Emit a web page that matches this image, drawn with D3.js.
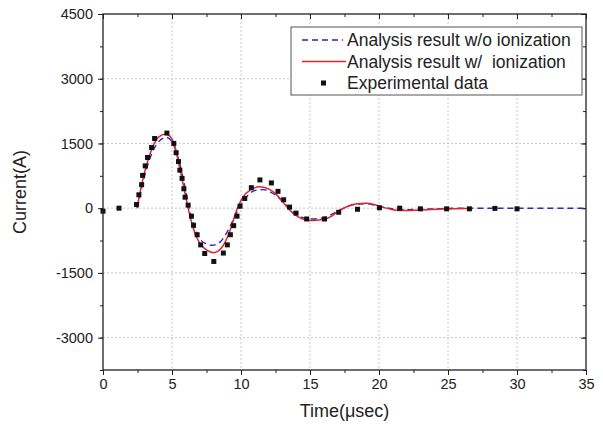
<!DOCTYPE html>
<html>

<head>
    <meta charset="utf-8">
    <title>Current vs Time</title>
    <style>
        body { margin: 0; background: #fff; }
        svg { font-family: "Liberation Sans", Arial, sans-serif; }
        .grid line { stroke: #c8c8c8; stroke-dasharray: 2,2; }
    </style>
</head>

<body>
    <svg></svg>
    <script src="https://d3js.org/d3.v7.min.js"></script>
    <script>
        // values
        const xTicks = [0, 5, 10, 15, 20, 25, 30, 35];
        const yTicks = [-3000, -1500, 0, 1500, 3000, 4500];
        const seriesNames = ["Analysis result w/o ionization", "Analysis result w/  ionization", "Experimental data"];

        const noIonT = [2.5, 2.9, 3.4, 4.0, 4.6, 5.1, 5.5, 5.9, 6.2, 6.6, 7.0, 7.5, 7.9, 8.5, 9.0, 9.5, 10.0, 10.5, 11.0, 11.6, 12.1, 12.7, 13.3, 13.9, 14.5, 15.1, 15.9, 16.6, 17.2, 17.8, 18.5, 19.1, 19.8, 20.5, 21.2, 22.0, 23.0, 24.5, 26, 30, 35];
        const noIonI = [0, 600, 1150, 1530, 1640, 1480, 1100, 550, 50, -400, -700, -830, -860, -780, -550, -230, 80, 300, 410, 430, 380, 250, 60, -120, -220, -250, -225, -140, -40, 50, 95, 100, 60, 10, -20, -35, -25, -10, 0, 0, 0];

        const ionT = [2.46, 2.92, 3.4, 4.0, 4.55, 5.08, 5.45, 5.81, 6.17, 6.53, 7.0, 7.5, 8.03, 8.58, 9.18, 9.66, 10.14, 10.75, 11.35, 12.07, 12.68, 13.28, 13.88, 14.48, 15.08, 15.92, 16.64, 17.12, 17.7, 18.4, 19.07, 19.7, 20.3, 21.0, 21.8, 22.6, 23.5, 24.5, 25.5, 26.5];
        const ionI = [0, 707, 1250, 1640, 1720, 1560, 1100, 550, 0, -460, -810, -965, -1030, -925, -540, -70, 255, 435, 497, 435, 280, 47, -147, -250, -287, -264, -170, -55, 40, 100, 115, 80, 20, -35, -55, -50, -35, -20, -12, -10];

        const expT = [0, 1.16, 2.43, 2.6, 2.8, 2.87, 3.06, 3.23, 3.52, 3.74, 4.63, 5.13, 5.3, 5.47, 5.57, 5.73, 5.86, 5.95, 6.17, 6.41, 6.56, 6.82, 7.08, 7.37, 8.03, 8.72, 9.01, 9.23, 9.47, 9.71, 9.93, 10.27, 10.75, 11.37, 12.2, 12.68, 13.09, 13.52, 13.99, 14.76, 16.05, 17.08, 18.44, 20.03, 21.5, 23.0, 24.9, 26.55, 28.4, 30.0];
        const expI = [-70, 0, 85, 310, 545, 760, 980, 1175, 1405, 1615, 1740, 1500, 1285, 1080, 880, 690, 450, 255, 70, -185, -395, -615, -850, -1050, -1235, -1040, -850, -615, -405, -185, 45, 225, 475, 655, 585, 390, 195, 25, -115, -250, -250, -95, -25, 10, 0, -15, -15, -15, -5, -15];

        const width = 603;
        const height = 427;
        const margin = { top: 14, right: 17, bottom: 57, left: 103 };
        const innerWidth = width - margin.left - margin.right;
        const innerHeight = height - margin.top - margin.bottom;

        const svg = d3.select('svg').attr('width', width).attr('height', height);
        const g = svg.append('g').attr('transform', `translate(${margin.left},${margin.top})`);

        const xScale = d3.scaleLinear().domain([0, 35]).range([0, innerWidth]);
        const yScale = d3.scaleLinear().domain([-3750, 4500]).range([innerHeight, 0]);

        const xMinor = d3.range(0, 35.01, 2.5);
        const yMinor = d3.range(-3750, 4500.1, 750);

        // grid
        g.append('g').attr('class', 'grid')
            .selectAll('line').data(xTicks.slice(1, -1)).enter().append('line')
            .attr('x1', d => xScale(d)).attr('x2', d => xScale(d))
            .attr('y1', 0).attr('y2', innerHeight);
        g.append('g').attr('class', 'grid')
            .selectAll('line').data(yTicks.slice(0, -1)).enter().append('line')
            .attr('y1', d => yScale(d)).attr('y2', d => yScale(d))
            .attr('x1', 0).attr('x2', innerWidth);

        // axes
        const fmt = d => String(d); // plain hyphen for negatives, like the original
        const styleAxis = sel => {
            sel.select('.domain').remove();
            sel.selectAll('line').attr('stroke', '#222').attr('stroke-width', 1);
            sel.selectAll('text').attr('font-size', 14.5).attr('fill', '#222')
                .attr('font-family', '"Liberation Sans", Arial, sans-serif');
        };
        g.append('g').attr('transform', `translate(0,${innerHeight})`)
            .call(d3.axisBottom(xScale).tickValues(xTicks).tickSize(5).tickPadding(4).tickFormat(fmt))
            .call(styleAxis);
        g.append('g').attr('transform', `translate(0,${innerHeight})`)
            .call(d3.axisBottom(xScale).tickValues(xMinor).tickSize(3).tickFormat(''))
            .call(styleAxis);
        g.append('g')
            .call(d3.axisLeft(yScale).tickValues(yTicks).tickSize(5).tickPadding(5).tickFormat(fmt))
            .call(styleAxis);
        g.append('g')
            .call(d3.axisLeft(yScale).tickValues(yMinor).tickSize(3).tickFormat(''))
            .call(styleAxis);
        // inward ticks top/right
        g.append('g')
            .call(d3.axisTop(xScale).tickValues(xTicks).tickSize(-5).tickFormat(''))
            .call(styleAxis);
        g.append('g')
            .call(d3.axisTop(xScale).tickValues(xMinor).tickSize(-3).tickFormat(''))
            .call(styleAxis);
        g.append('g').attr('transform', `translate(${innerWidth},0)`)
            .call(d3.axisRight(yScale).tickValues(yTicks).tickSize(-5).tickFormat(''))
            .call(styleAxis);
        g.append('g').attr('transform', `translate(${innerWidth},0)`)
            .call(d3.axisRight(yScale).tickValues(yMinor).tickSize(-3).tickFormat(''))
            .call(styleAxis);

        // curves
        const line = d3.line().x(d => xScale(d[0])).y(d => yScale(d[1])).curve(d3.curveMonotoneX);
        const noIon = noIonT.map((t, i) => [t, noIonI[i]]);
        const ion = ionT.map((t, i) => [t, ionI[i]]);
        const exp = expT.map((t, i) => [t, expI[i]]);

        g.append('path').datum(noIon).attr('d', line)
            .attr('fill', 'none').attr('stroke', '#2a2ab8').attr('stroke-width', 1.4)
            .attr('stroke-dasharray', '6,4');
        g.append('path').datum(ion).attr('d', line)
            .attr('fill', 'none').attr('stroke', '#e3232c').attr('stroke-width', 1.5);

        g.selectAll('rect.pt').data(exp).enter().append('rect').attr('class', 'pt')
            .attr('x', d => xScale(d[0]) - 2.5).attr('y', d => yScale(d[1]) - 2.5)
            .attr('width', 5).attr('height', 5).attr('fill', '#111');

        // frame
        g.append('rect').attr('width', innerWidth).attr('height', innerHeight)
            .attr('fill', 'none').attr('stroke', '#222').attr('stroke-width', 1.3);

        // legend
        const lg = svg.append('g').attr('transform', 'translate(291,27)');
        lg.append('rect').attr('width', 291).attr('height', 68)
            .attr('fill', '#fff').attr('stroke', '#555').attr('stroke-width', 1);
        const rowY = [13, 34.5, 56];
        lg.append('line').attr('x1', 11).attr('x2', 52).attr('y1', rowY[0]).attr('y2', rowY[0])
            .attr('stroke', '#2a2ab8').attr('stroke-width', 1.4).attr('stroke-dasharray', '6,4');
        lg.append('line').attr('x1', 11).attr('x2', 55).attr('y1', rowY[1]).attr('y2', rowY[1])
            .attr('stroke', '#e3232c').attr('stroke-width', 1.5);
        lg.append('rect').attr('x', 30).attr('y', rowY[2] - 2.5).attr('width', 5).attr('height', 5).attr('fill', '#111');
        lg.selectAll('text').data(seriesNames).enter().append('text')
            .attr('x', 56).attr('y', (d, i) => rowY[i]).attr('dy', '0.35em')
            .attr('font-size', 17.5).attr('fill', '#222').style('white-space', 'pre')
            .text(d => d);

        // axis titles
        svg.append('text').attr('x', margin.left + innerWidth / 2).attr('y', 417)
            .attr('text-anchor', 'middle').attr('font-size', 18).attr('fill', '#222')
            .text('Time(\u03bcsec)');
        svg.append('text').attr('transform', `translate(26,${margin.top + innerHeight / 2}) rotate(-90)`)
            .attr('text-anchor', 'middle').attr('font-size', 18).attr('fill', '#222')
            .text('Current(A)');
    </script>
</body>

</html>
